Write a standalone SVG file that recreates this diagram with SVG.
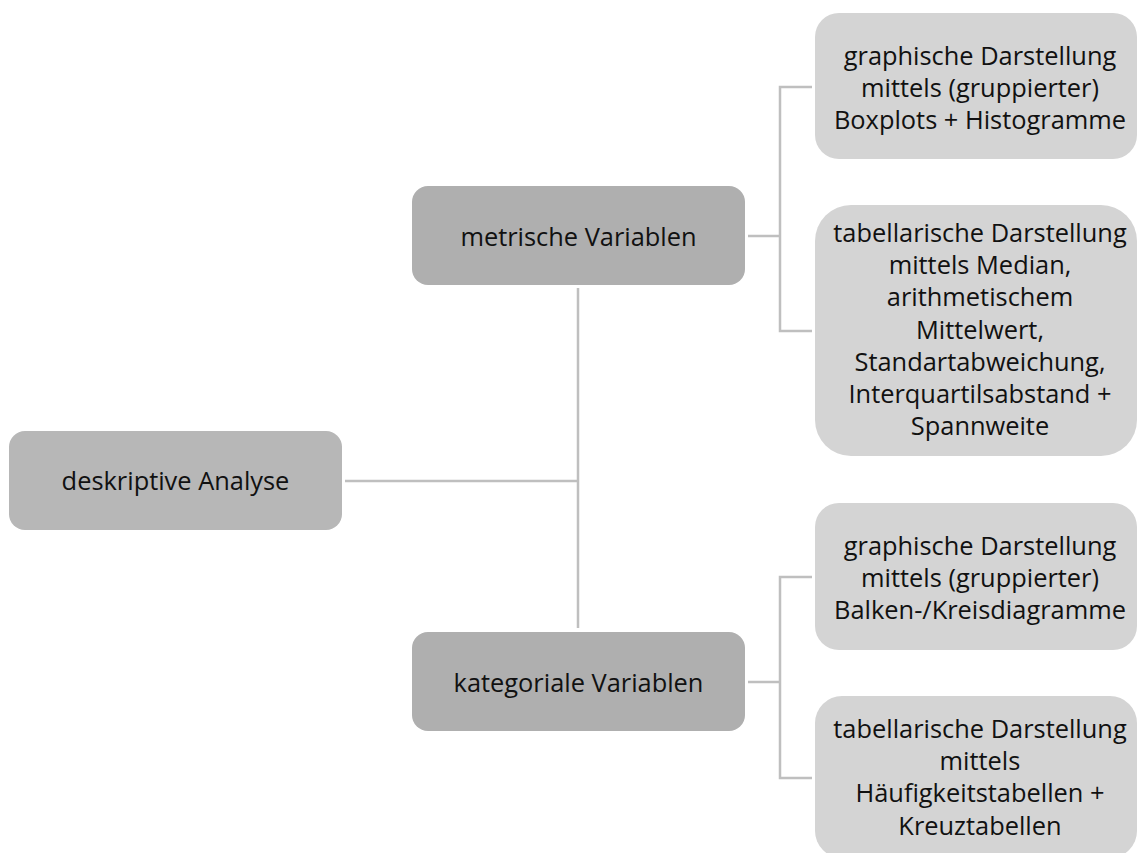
<svg xmlns="http://www.w3.org/2000/svg" width="1138" height="853" viewBox="0 0 1138 853">
<style>
  .root { fill: #b7b7b7; }
  .mid { fill: #afafaf; }
  .leaf { fill: #d4d4d4; }
  text { font-family: "Open Sans", "Liberation Sans", sans-serif; font-size: 25.4px; fill: #111111; text-anchor: middle; }
  .conn { fill: none; stroke: #bfbfbf; stroke-width: 2.5; }
</style>
<rect width="1138" height="853" fill="#ffffff"/>
<g id="connectors">
  <path class="conn" d="M345 481 H578"/>
  <path class="conn" d="M578 288 V628"/>
  <path class="conn" d="M748 236 H780"/>
  <path class="conn" d="M812 87 H780 V331 H812"/>
  <path class="conn" d="M748 682 H780"/>
  <path class="conn" d="M812 577 H780 V778 H812"/>
</g>
<g id="node-root">
  <rect class="root" x="9" y="431" width="333" height="99" rx="16"/>
  <text x="175.5" y="490">deskriptive Analyse</text>
</g>
<g id="node-metrisch">
  <rect class="mid" x="412" y="186" width="333" height="99" rx="16"/>
  <text x="578.5" y="246">metrische Variablen</text>
</g>
<g id="node-kategorial">
  <rect class="mid" x="412" y="632" width="333" height="99" rx="16"/>
  <text x="578.5" y="692">kategoriale Variablen</text>
</g>
<g id="node-leaf1">
  <rect class="leaf" x="815" y="13" width="322" height="146" rx="24"/>
  <text x="980" y="65">graphische Darstellung</text>
  <text x="980" y="97">mittels (gruppierter)</text>
  <text x="980" y="128.5">Boxplots + Histogramme</text>
</g>
<g id="node-leaf2">
  <rect class="leaf" x="815" y="205" width="322" height="251" rx="36"/>
  <text x="980" y="242">tabellarische Darstellung</text>
  <text x="980" y="274.2">mittels Median,</text>
  <text x="980" y="306.4">arithmetischem</text>
  <text x="980" y="338.6">Mittelwert,</text>
  <text x="980" y="370.8">Standartabweichung,</text>
  <text x="980" y="403">Interquartilsabstand +</text>
  <text x="980" y="435.2">Spannweite</text>
</g>
<g id="node-leaf3">
  <rect class="leaf" x="815" y="503" width="322" height="147" rx="24"/>
  <text x="980" y="555">graphische Darstellung</text>
  <text x="980" y="587">mittels (gruppierter)</text>
  <text x="980" y="618.5">Balken-/Kreisdiagramme</text>
</g>
<g id="node-leaf4">
  <rect class="leaf" x="815" y="696" width="322" height="162" rx="27"/>
  <text x="980" y="738">tabellarische Darstellung</text>
  <text x="980" y="770.2">mittels</text>
  <text x="980" y="802.4">Häufigkeitstabellen +</text>
  <text x="980" y="834.6">Kreuztabellen</text>
</g>
</svg>
